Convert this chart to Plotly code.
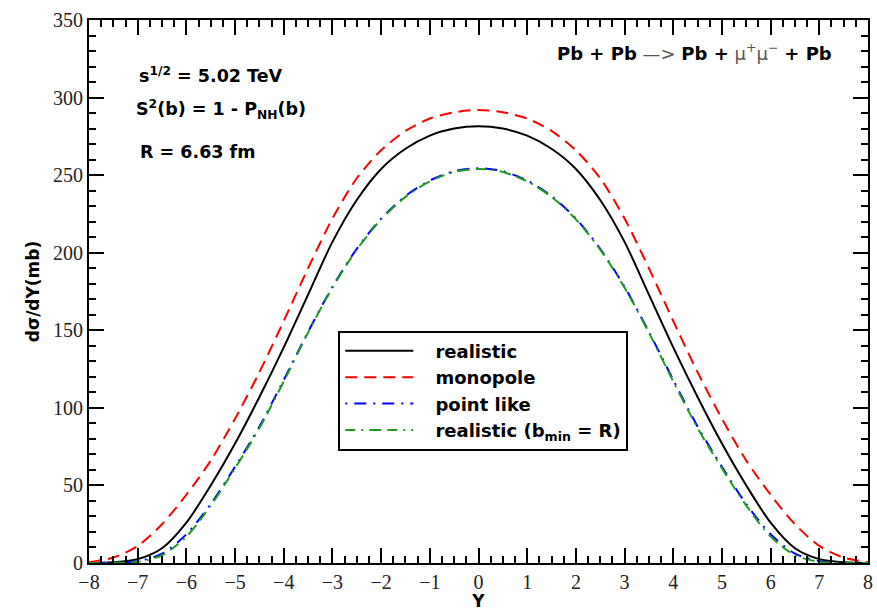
import plotly.graph_objects as go

# Rapidity grid and dσ/dY (mb) for the four form-factor choices
Y = [-8, -7.5, -7, -6.5, -6, -5.5, -5, -4.5, -4, -3.5, -3, -2.5, -2, -1.5, -1, -0.5,
     0, 0.5, 1, 1.5, 2, 2.5, 3, 3.5, 4, 4.5, 5, 5.5, 6, 6.5, 7, 7.5, 8]

realistic = [0.05, 0.5, 2.5, 9.5, 26, 50, 77, 107, 139, 173, 207, 234, 254, 267, 275.5, 280,
             281.5, 280, 275.5, 267, 254, 234, 207, 173, 139, 107, 77, 50, 26, 9.5, 2.5, 0.5, 0.05]
monopole = [0.5, 3.5, 11, 25, 44, 66, 93, 123, 156, 190, 222, 248, 266, 278.5, 286.5, 290.5,
            292, 290.5, 286.5, 278.5, 266, 248, 222, 190, 156, 123, 93, 66, 44, 25, 11, 3.5, 0.5]
point_like = [0, 0.2, 1.2, 6, 18.5, 38, 62, 88, 118, 149, 178, 202.5, 222, 236.5, 246.5, 252.5,
              254.5, 252.5, 246.5, 236.5, 222, 202.5, 178, 149, 118, 88, 62, 38, 18.5, 6, 1.2, 0.2, 0]
realistic_bmin = [0, 0.1, 0.7, 5, 17, 37, 61, 87, 117, 148.5, 177.5, 202, 221.5, 236, 246, 252,
                  254, 252, 246, 236, 221.5, 202, 177.5, 148.5, 117, 87, 61, 37, 17, 5, 0.7, 0.1, 0]

series = [
    ("realistic", realistic, "#000000", "solid"),
    ("monopole", monopole, "#ff0000", "12px,7px"),
    ("point like", point_like, "#0000ff", "2px,7px,12px,7px"),
    ("realistic (b<sub>min</sub> = R)", realistic_bmin, "#1f9a1f", "10px,6px,2px,6px,12px,6px"),
]

fig = go.Figure()
for name, vals, color, dash in series:
    fig.add_trace(go.Scatter(
        x=Y, y=vals, name="\u00a0\u00a0\u00a0<b>" + name + "</b>", mode="lines",
        line=dict(color=color, width=2, dash=dash, shape="spline", smoothing=0.8),
    ))

sans = "DejaVu Sans"
serif = "Liberation Serif"

axis_common = dict(
    showline=True, linecolor="black", linewidth=2, mirror="allticks",
    ticks="inside", ticklen=15, tickwidth=2, tickcolor="black",
    showgrid=False, zeroline=False,
    tickfont=dict(family=serif, size=20, color="#222"),
)

fig.update_xaxes(
    range=[-8, 8], dtick=1, tick0=-8,
    minor=dict(dtick=0.25, ticks="inside", ticklen=7, tickwidth=1.5, tickcolor="black", showgrid=False),
    title=dict(text="<b>Y</b>", font=dict(family=sans, size=17, color="black"), standoff=2),
    **axis_common,
)
fig.update_yaxes(
    range=[0, 350], dtick=50, tick0=0,
    minor=dict(dtick=10, ticks="inside", ticklen=7, tickwidth=1.5, tickcolor="black", showgrid=False),
    title=dict(text="<b>dσ/dY(mb)</b>", font=dict(family=sans, size=17, color="black"), standoff=9),
    **axis_common,
)

txt = dict(family=sans, size=17.5, color="black")
fig.add_annotation(x=0.062, y=0.899, xref="paper", yref="paper", xanchor="left", yanchor="middle",
                   text="<b>s<sup>1/2</sup> = 5.02 TeV</b>", showarrow=False, font=txt)
fig.add_annotation(x=0.058, y=0.835, xref="paper", yref="paper", xanchor="left", yanchor="middle",
                   text="<b>S<sup>2</sup>(b) = 1 - P<sub>NH</sub>(b)</b>", showarrow=False, font=txt)
fig.add_annotation(x=0.063, y=0.756, xref="paper", yref="paper", xanchor="left", yanchor="middle",
                   text="<b>R = 6.63 fm</b>", showarrow=False, font=txt)
fig.add_annotation(x=0.956, y=0.941, xref="paper", yref="paper", xanchor="right", yanchor="middle",
                   text="<b>Pb + Pb</b> <span style='color:#555'>—></span> <b>Pb +</b> "
                        "<span style='color:#555'>μ<sup>+</sup>μ<sup>−</sup></span> <b>+ Pb</b>",
                   showarrow=False, font=dict(family=sans, size=18, color="black"))

fig.update_layout(
    width=877, height=611,
    margin=dict(l=89, r=4, t=20, b=45),
    paper_bgcolor="white", plot_bgcolor="white",
    showlegend=True,
    legend=dict(
        x=0.32, y=0.428, xanchor="left", yanchor="top",
        bgcolor="white", bordercolor="black", borderwidth=2,
        font=dict(family=sans, size=18, color="black"),
        itemwidth=68, tracegroupgap=0,
    ),
)

fig.write_html("out.html")
